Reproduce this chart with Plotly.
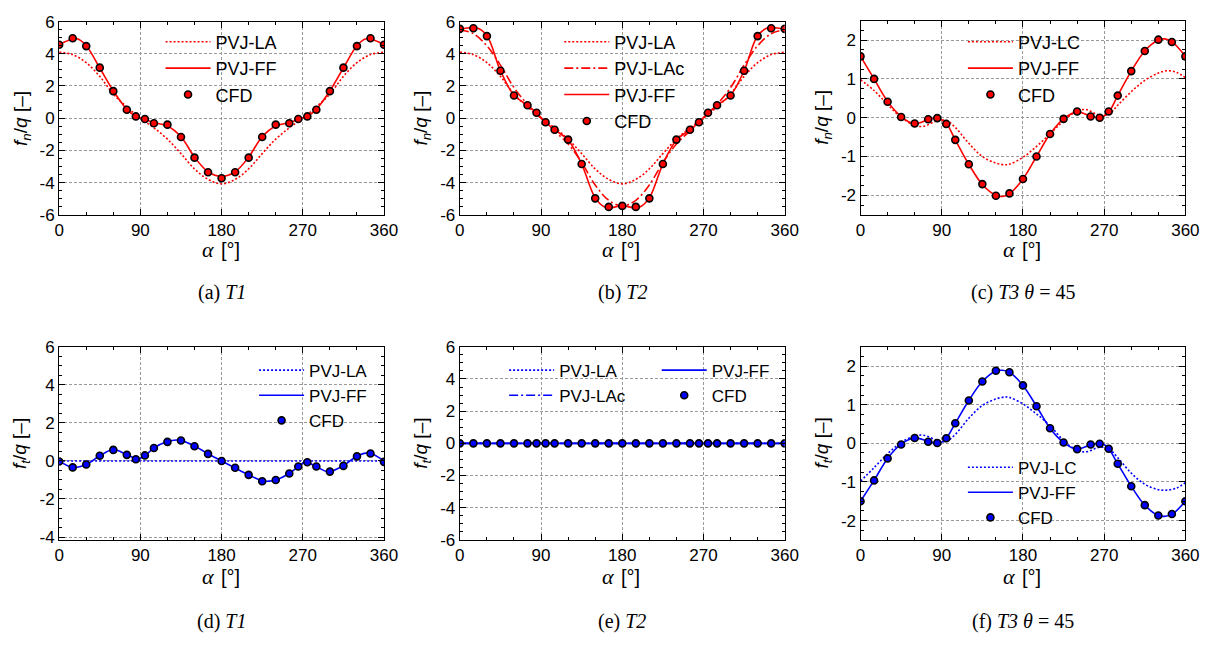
import plotly.graph_objects as go

W, H = 1225, 646

# ---------------- data ----------------
alpha_cfd = [0, 15, 30, 45, 60, 75, 85, 95, 105, 120, 135, 150, 165, 180, 195,
             210, 225, 240, 255, 265, 275, 285, 300, 315, 330, 345, 360]
alpha_15 = [0, 15, 30, 45, 60, 75, 90, 105, 120, 135, 150, 165, 180, 195, 210,
            225, 240, 255, 270, 285, 300, 315, 330, 345, 360]
x_ticks = [0, 90, 180, 270, 360]
x_ticktext = ["0", "90", "180", "270", "360"]
y_ticks_6 = [-6, -4, -2, 0, 2, 4, 6]
y_ticktext_6 = ["-6", "-4", "-2", "0", "2", "4", "6"]
y_ticks_d = [-4, -2, 0, 2, 4, 6]
y_ticktext_d = ["-4", "-2", "0", "2", "4", "6"]
y_ticks_2 = [-2, -1, 0, 1, 2]
y_ticktext_2 = ["-2", "-1", "0", "1", "2"]

# (a) T1, normal force
a_cfd = [4.56, 4.97, 4.48, 3.14, 1.68, 0.52, 0.11, -0.05, -0.31, -0.40, -1.17, -2.45, -3.36, -3.73,
         -3.36, -2.45, -1.17, -0.40, -0.31, -0.05, 0.11, 0.52, 1.68, 3.14, 4.48, 4.97, 4.56]
a_ff_alpha = [0, 10, 20, 30, 45, 60, 75, 85, 95, 105, 120, 135, 150, 165, 180,
              195, 210, 225, 240, 255, 265, 275, 285, 300, 315, 330, 340, 350, 360]
a_ff = [4.56, 4.82, 4.93, 4.5, 3.12, 1.7, 0.55, 0.12, -0.06, -0.28, -0.48, -1.15, -2.42, -3.33, -3.62,
        -3.33, -2.42, -1.15, -0.48, -0.28, -0.06, 0.12, 0.55, 1.7, 3.12, 4.5, 4.93, 4.82, 4.56]
la_fn = [4.1, 3.95, 3.45, 2.6, 1.5, 0.7, 0.0, -0.6, -1.3, -2.2, -3.15, -3.8, -4.08,
         -3.8, -3.15, -2.2, -1.3, -0.6, 0.0, 0.7, 1.5, 2.6, 3.45, 3.95, 4.1]

# (b) T2, normal force
b_cfd = [5.55, 5.59, 5.1, 2.95, 1.41, 0.80, 0.34, -0.25, -0.72, -1.33, -2.85, -4.98, -5.51, -5.45,
         -5.51, -4.98, -2.85, -1.33, -0.72, -0.25, 0.34, 0.80, 1.41, 2.95, 5.1, 5.59, 5.55]
b_ff_alpha = [0, 8, 18, 30, 45, 60, 75, 85, 95, 105, 120, 135, 150, 160, 168, 180, 192, 200, 210,
              225, 240, 255, 265, 275, 285, 300, 315, 330, 342, 352, 360]
b_ff = [5.52, 5.6, 5.63, 5.12, 2.95, 1.42, 0.8, 0.34, -0.25, -0.72, -1.35, -2.85, -4.95, -5.5, -5.56,
        -5.42, -5.56, -5.5, -4.95, -2.85, -1.35, -0.72, -0.25, 0.34, 0.8, 1.42, 2.95, 5.12, 5.63, 5.6, 5.52]
b_lac = [5.5, 5.25, 4.5, 3.3, 1.9, 0.85, 0.0, -0.8, -1.6, -2.75, -4.15, -5.1, -5.45,
         -5.1, -4.15, -2.75, -1.6, -0.8, 0.0, 0.85, 1.9, 3.3, 4.5, 5.25, 5.5]

# (c) T3 theta=45, normal force
c_cfd = [1.58, 1.0, 0.41, 0.02, -0.15, -0.04, -0.01, -0.16, -0.57, -1.2, -1.71, -2.01, -1.95, -1.58,
         -1.0, -0.42, -0.03, 0.16, 0.03, 0.0, 0.16, 0.57, 1.2, 1.72, 2.01, 1.95, 1.58]
c_ff_alpha = [0, 15, 30, 45, 60, 75, 85, 95, 105, 120, 135, 150, 157, 165, 180, 195, 210, 225,
              240, 255, 265, 275, 285, 300, 315, 330, 337, 345, 360]
c_ff = [1.58, 1.0, 0.42, 0.03, -0.16, -0.05, -0.01, -0.15, -0.57, -1.2, -1.72, -2.0, -2.03, -1.96,
        -1.58, -1.0, -0.42, -0.03, 0.15, 0.04, 0.0, 0.15, 0.57, 1.2, 1.72, 2.0, 2.03, 1.96, 1.58]
lc_alpha = [0, 15, 30, 45, 60, 70, 85, 95, 105, 120, 135, 150, 160, 165, 180, 195, 210, 225,
            240, 250, 265, 275, 285, 300, 315, 330, 340, 350, 360]
c_lc = [0.98, 0.7, 0.34, 0.01, -0.2, -0.22, -0.08, -0.07, -0.25, -0.66, -1.0, -1.17, -1.21, -1.2,
        -1.02, -0.74, -0.42, -0.08, 0.17, 0.21, 0.06, 0.09, 0.32, 0.67, 0.96, 1.15, 1.21, 1.17, 1.03]

# (d) T1, tangential force
d_cfd = [-0.03, -0.34, -0.19, 0.27, 0.58, 0.32, 0.09, 0.29, 0.68, 1.0, 1.07, 0.77, 0.37, 0.0,
         -0.36, -0.73, -1.07, -1.0, -0.66, -0.29, -0.07, -0.29, -0.56, -0.26, 0.24, 0.39, -0.05]
d_ff_alpha = [0, 15, 30, 45, 60, 75, 87, 95, 105, 120, 130, 135, 150, 165, 180, 195, 210, 225,
              233, 240, 255, 265, 273, 285, 298, 315, 330, 343, 360]
d_ff = [0.0, -0.34, -0.19, 0.27, 0.6, 0.33, 0.1, 0.27, 0.68, 1.02, 1.1, 1.08, 0.78, 0.38, 0.0,
        -0.37, -0.73, -1.04, -1.06, -1.0, -0.66, -0.3, -0.06, -0.3, -0.56, -0.25, 0.25, 0.42, 0.0]
flat_alpha = [0, 360]
d_la = [0.0, 0.0]

# (e) T2, tangential force
e_cfd = [0.0, 0.0, 0.0, 0.0, 0.0, 0.0, 0.0, 0.0, 0.0, 0.0, 0.0, 0.0, 0.0, 0.0,
         0.0, 0.0, 0.0, 0.0, 0.0, 0.0, 0.0, 0.0, 0.0, 0.0, 0.0, 0.0, 0.0]
e_la = [0.0, 0.0]
e_lac = [0.0, 0.0]
e_ff = [0.0, 0.0]

# (f) T3 theta=45, tangential force
f_cfd = [-1.5, -0.96, -0.39, -0.03, 0.14, 0.04, 0.01, 0.13, 0.52, 1.11, 1.6, 1.88, 1.84, 1.5,
         0.96, 0.39, 0.02, -0.15, -0.03, -0.01, -0.14, -0.53, -1.11, -1.6, -1.87, -1.83, -1.5]
f_ff_alpha = [0, 15, 30, 45, 60, 75, 87, 95, 105, 120, 135, 150, 157, 165, 180, 195, 210, 225,
              240, 255, 267, 275, 285, 300, 315, 330, 337, 345, 360]
f_ff = [-1.5, -0.96, -0.39, -0.02, 0.14, 0.05, 0.0, 0.13, 0.52, 1.11, 1.6, 1.87, 1.89, 1.84, 1.5,
        0.96, 0.39, 0.02, -0.15, -0.04, 0.0, -0.14, -0.53, -1.11, -1.6, -1.87, -1.89, -1.84, -1.5]
f_lc = [-0.98, -0.63, -0.27, 0.02, 0.19, 0.21, 0.08, 0.05, 0.23, 0.65, 0.98, 1.15, 1.2, 1.19,
        1.02, 0.76, 0.46, 0.07, -0.18, -0.22, -0.1, -0.14, -0.37, -0.77, -1.06, -1.2, -1.21, -1.16, -1.02]

captions = ["(a) <i>T1</i>", "(b) <i>T2</i>", "(c) <i>T3 θ</i> = 45",
            "(d) <i>T1</i>", "(e) <i>T2</i>", "(f) <i>T3 θ</i> = 45"]

# ---------------- styling ----------------
RED = "#ff0000"
BLUE = "#0000ff"
SANS = "Liberation Sans"
SERIF = "Liberation Serif"

fig = go.Figure()


def px_x(v):
    return v / W


def px_y(v):
    return 1 - v / H


# panel boxes in pixels: (left, right, top, bottom)
boxes = [
    (55, 385, 13, 212), (462, 792, 13, 212), (869, 1199, 12, 212),
    (55, 385, 348, 547), (462, 792, 348, 547), (869, 1199, 348, 547),
]
yranges = [[-6, 6], [-6, 6], [-2.5, 2.5], [-4.15, 6], [-6, 6], [-2.5, 2.5]]
yticks = [(y_ticks_6, y_ticktext_6), (y_ticks_6, y_ticktext_6), (y_ticks_2, y_ticktext_2),
          (y_ticks_d, y_ticktext_d), (y_ticks_6, y_ticktext_6), (y_ticks_2, y_ticktext_2)]
yminor = [0.5, 0.5, 0.25, 0.5, 0.5, 0.25]


def line(x, y, color, dash, name, i, legend):
    sfx = "" if i == 1 else str(i)
    fig.add_trace(go.Scatter(
        x=x, y=y, mode="lines", name=name,
        line=dict(color=color, width=1.6, dash=dash, shape="spline", smoothing=1.0),
        xaxis="x" + sfx, yaxis="y" + sfx, legend=legend, showlegend=True))


def dots(x, y, color, i, legend):
    sfx = "" if i == 1 else str(i)
    fig.add_trace(go.Scatter(
        x=x, y=y, mode="markers", name="CFD",
        marker=dict(color=color, size=7, line=dict(color="black", width=1.6)),
        xaxis="x" + sfx, yaxis="y" + sfx, legend=legend, showlegend=True))


DOT = "2px,2px"
DASHDOT = "9px,3px,2px,3px"

# (a)
line(alpha_15, la_fn, RED, DOT, "PVJ-LA", 1, "legend")
line(a_ff_alpha, a_ff, RED, "solid", "PVJ-FF", 1, "legend")
dots(alpha_cfd, a_cfd, RED, 1, "legend")
# (b)
line(alpha_15, la_fn, RED, DOT, "PVJ-LA", 2, "legend2")
line(alpha_15, b_lac, RED, DASHDOT, "PVJ-LAc", 2, "legend2")
line(b_ff_alpha, b_ff, RED, "solid", "PVJ-FF", 2, "legend2")
dots(alpha_cfd, b_cfd, RED, 2, "legend2")
# (c)
line(lc_alpha, c_lc, RED, DOT, "PVJ-LC", 3, "legend3")
line(c_ff_alpha, c_ff, RED, "solid", "PVJ-FF", 3, "legend3")
dots(alpha_cfd, c_cfd, RED, 3, "legend3")
# (d)
line(flat_alpha, d_la, BLUE, DOT, "PVJ-LA", 4, "legend4")
line(d_ff_alpha, d_ff, BLUE, "solid", "PVJ-FF", 4, "legend4")
dots(alpha_cfd, d_cfd, BLUE, 4, "legend4")
# (e)
line(flat_alpha, e_la, BLUE, DOT, "PVJ-LA", 5, "legend5")
line(flat_alpha, e_lac, BLUE, DASHDOT, "PVJ-LAc", 5, "legend5")
line(flat_alpha, e_ff, BLUE, "solid", "PVJ-FF", 5, "legend7")
dots(alpha_cfd, e_cfd, BLUE, 5, "legend7")
# (f)
line(lc_alpha, f_lc, BLUE, DOT, "PVJ-LC", 6, "legend6")
line(f_ff_alpha, f_ff, BLUE, "solid", "PVJ-FF", 6, "legend6")
dots(alpha_cfd, f_cfd, BLUE, 6, "legend6")

layout = dict(
    width=W, height=H, margin=dict(l=0, r=0, t=0, b=0),
    paper_bgcolor="white", plot_bgcolor="white",
    font=dict(family=SANS, size=17, color="black"),
)

GRID = "#9a9a9a"
for i, (l, r, t, b) in enumerate(boxes, start=1):
    sfx = "" if i == 1 else str(i)
    common = dict(showline=True, linecolor="black", linewidth=1.2, mirror="allticks",
                  ticks="inside", ticklen=6, tickcolor="black", tickwidth=1,
                  showgrid=True, gridcolor=GRID, gridwidth=1, griddash="3px,2px",
                  zeroline=False, tickfont=dict(family=SANS, size=17, color="black"))
    layout["xaxis" + sfx] = dict(
        domain=[px_x(l), px_x(r)], anchor="y" + sfx, range=[0, 360],
        tickmode="array", tickvals=x_ticks, ticktext=x_ticktext,
        minor=dict(tickmode="linear", tick0=0, dtick=30, ticks="inside", ticklen=3,
                   tickcolor="black", showgrid=False),
        **common)
    tv, tt = yticks[i - 1]
    layout["yaxis" + sfx] = dict(
        domain=[px_y(b), px_y(t)], anchor="x" + sfx, range=yranges[i - 1],
        tickmode="array", tickvals=tv, ticktext=tt,
        minor=dict(tickmode="linear", tick0=0, dtick=yminor[i - 1], ticks="inside", ticklen=3,
                   tickcolor="black", showgrid=False),
        **common)


def legend_at(xpx, ypx, size):
    return dict(x=px_x(xpx), y=px_y(ypx), xanchor="left", yanchor="top",
                bgcolor="rgba(0,0,0,0)", borderwidth=0, itemwidth=45,
                font=dict(family=SANS, size=size, color="black"),
                tracegroupgap=0, itemclick=False, itemdoubleclick=False)


layout["legend"] = legend_at(158, 15, 18)
layout["legend2"] = legend_at(563, 15, 18)
layout["legend3"] = legend_at(973, 15, 18)
layout["legend4"] = legend_at(253, 354, 17)
layout["legend5"] = legend_at(507, 354, 17)
layout["legend7"] = legend_at(662, 354, 17)
layout["legend6"] = legend_at(973, 454, 17)

annotations = []
for i, (l, r, t, b) in enumerate(boxes):
    cx = (l + r) / 2
    cy = (t + b) / 2
    row_top = i < 3
    ty = b + 36 if row_top else b + 38
    # x-axis title: italic alpha (serif) + unit (sans)
    annotations.append(dict(
        text="<i>α</i>", x=px_x(cx - 6), y=px_y(ty), xref="paper", yref="paper",
        xanchor="right", yanchor="middle", showarrow=False,
        font=dict(family=SERIF, size=22, color="black")))
    annotations.append(dict(
        text="[°]", x=px_x(cx - 3), y=px_y(ty), xref="paper", yref="paper",
        xanchor="left", yanchor="middle", showarrow=False,
        font=dict(family=SANS, size=20, color="black")))
    # y-axis title
    ysub = "n" if row_top else "t"
    annotations.append(dict(
        text=f"<i>f</i><sub><i>{ysub}</i></sub>/<i>q</i> [–]",
        x=px_x(l - 38), y=px_y(cy), xref="paper", yref="paper",
        xanchor="center", yanchor="middle", textangle=-90, showarrow=False,
        font=dict(family=SANS, size=19, color="black")))
    # caption
    annotations.append(dict(
        text=captions[i], x=px_x(cx), y=px_y(b + 80 if row_top else b + 84),
        xref="paper", yref="paper", xanchor="center", yanchor="middle", showarrow=False,
        font=dict(family=SERIF, size=20, color="black")))

layout["annotations"] = annotations
fig.update_layout(**layout)
fig.write_html(
    "out.html",
    config={"displayModeBar": False},
    post_script="document.body.style.margin='0';document.body.style.padding='0';"
                "document.documentElement.style.overflow='hidden';",
)
